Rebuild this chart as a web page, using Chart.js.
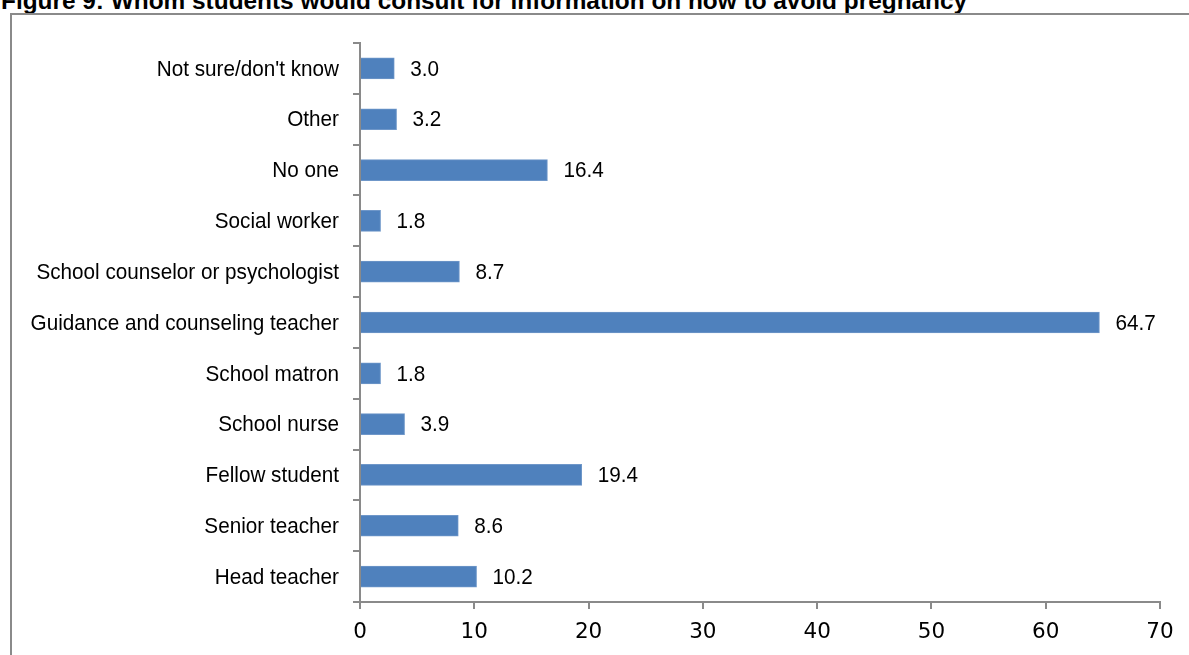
<!DOCTYPE html>
<html>
<head>
<meta charset="utf-8">
<script src="https://cdn.jsdelivr.net/npm/chart.js@4.4.0/dist/chart.umd.min.js"></script>
<style>
  html, body { margin: 0; padding: 0; background: #fff; overflow: hidden; }
  #wrap { position: relative; width: 1189px; height: 655px; }
  #title {
    position: absolute; left: 1px; top: -11px; white-space: nowrap;
    font: bold 24.4px "Liberation Sans", Arial, sans-serif; line-height: 24px; color: #000;
  }
  #frame {
    position: absolute; left: 10px; top: 13px; width: 1200px; height: 700px;
    border: 2px solid #8a8a8a; box-sizing: border-box;
  }
  canvas { position: absolute; left: 0; top: 0; }
</style>
</head>
<body>
<div id="wrap">
  <div id="title">Figure 9: Whom students would consult for information on how to avoid pregnancy</div>
  <div id="frame"></div>
  <canvas id="chart" width="1189" height="655"></canvas>
</div>
<script>
// top to bottom, as in the figure
const categories = [
  "Not sure/don't know",
  "Other",
  "No one",
  "Social worker",
  "School counselor or psychologist",
  "Guidance and counseling teacher",
  "School matron",
  "School nurse",
  "Fellow student",
  "Senior teacher",
  "Head teacher"
]
const percentages = [3.0, 3.2, 16.4, 1.8, 8.7, 64.7, 1.8, 3.9, 19.4, 8.6, 10.2]
const xTicks = [0, 10, 20, 30, 40, 50, 60, 70]

const axisGrey = '#8a8a8a'
const narrowFont = '22.5px "Liberation Sans", Arial, sans-serif'
const squeeze = 0.92

// no narrow font installed, so squeeze the text horizontally
function drawNarrow(ctx, text, x, y, align){
  ctx.save()
  ctx.font = narrowFont
  ctx.fillStyle = '#000'
  ctx.textAlign = align
  ctx.textBaseline = 'middle'
  ctx.translate(x, y)
  ctx.scale(squeeze, 1)
  ctx.fillText(text, 0, 0)
  ctx.restore()
}

const narrowLabels = {
  id: 'narrowLabels',
  afterDatasetsDraw(chart){
    const ctx = chart.ctx
    const yScale = chart.scales.y
    categories.forEach((name, i)=>{
      drawNarrow(ctx, name, yScale.right - 7 - 14, yScale.getPixelForTick(i) + 1, 'right')
    })
    chart.getDatasetMeta(0).data.forEach((bar, i)=>{
      drawNarrow(ctx, percentages[i].toFixed(1), bar.x + 16, bar.y + 1, 'left')
    })
  }
}

new Chart(document.getElementById('chart'), {
  type: 'bar',
  data: {
    labels: categories,
    datasets: [{
      data: percentages,
      backgroundColor: '#4f81bd',
      borderColor: '#6f97c9',
      borderWidth: 1,
      barThickness: 21
    }]
  },
  plugins: [narrowLabels],
  options: {
    indexAxis: 'y',
    responsive: false,
    animation: false,
    layout: { padding: { top: 43, right: 29, left: 0, bottom: 0 } },
    plugins: {
      legend: { display: false },
      tooltip: { enabled: false }
    },
    scales: {
      x: {
        min: 0,
        max: 70,
        afterBuildTicks: (scale)=>{ scale.ticks = xTicks.map(v=>({ value: v })) },
        afterFit: (scale)=>{ scale.height = 53 },
        grid: { drawOnChartArea: false, drawTicks: true, tickLength: 7, color: axisGrey, lineWidth: 2 },
        border: { color: axisGrey, width: 2 },
        ticks: {
          padding: 11,
          color: '#000',
          font: { family: '"DejaVu Sans", sans-serif', size: 21.5 }
        }
      },
      y: {
        afterFit: (scale)=>{ scale.width = 360 },
        grid: { drawOnChartArea: false, drawTicks: true, tickLength: 7, offset: true, color: axisGrey, lineWidth: 2 },
        border: { color: axisGrey, width: 2 },
        ticks: { display: false, autoSkip: false }
      }
    }
  }
})
</script>
</body>
</html>
